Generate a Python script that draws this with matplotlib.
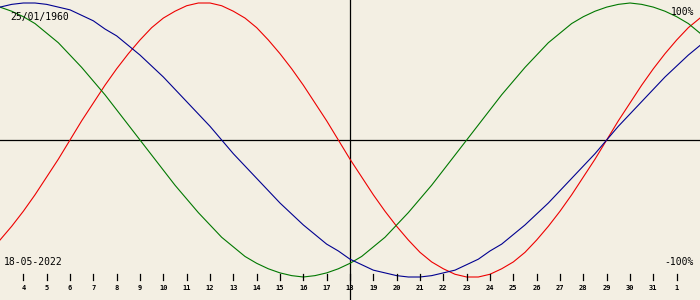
"""Biorhythm chart for 25/01/1960, centred on 18-05-2022."""

import matplotlib

matplotlib.use("Agg")

import matplotlib.pyplot as plt

BIRTH_LABEL = "25/01/1960"
DATE_LABEL = "18-05-2022"

# readings every half day, 3 May .. 2 June (x = day number counted from 1 May)
days = [3 + i / 2 for i in range(61)]
day_labels = [str(d) for d in range(4, 32)] + ["1"]
tick_days = list(range(4, 33))
centre_day = 18

physical = [
    -0.73, -0.63, -0.52, -0.40, -0.27, -0.14, 0.00, 0.14, 0.27, 0.40,
    0.52, 0.63, 0.73, 0.82, 0.89, 0.94, 0.98, 1.00, 1.00, 0.98,
    0.94, 0.89, 0.82, 0.73, 0.63, 0.52, 0.40, 0.27, 0.14, 0.00,
    -0.14, -0.27, -0.40, -0.52, -0.63, -0.73, -0.82, -0.89, -0.94, -0.98,
    -1.00, -1.00, -0.98, -0.94, -0.89, -0.82, -0.73, -0.63, -0.52, -0.40,
    -0.27, -0.14, 0.00, 0.14, 0.27, 0.40, 0.52, 0.63, 0.73, 0.82,
    0.89,
]
emotional = [
    0.97, 0.94, 0.90, 0.85, 0.78, 0.71, 0.62, 0.53, 0.43, 0.33,
    0.22, 0.11, 0.00, -0.11, -0.22, -0.33, -0.43, -0.53, -0.62, -0.71,
    -0.78, -0.85, -0.90, -0.94, -0.97, -0.99, -1.00, -0.99, -0.97, -0.94,
    -0.90, -0.85, -0.78, -0.71, -0.62, -0.53, -0.43, -0.33, -0.22, -0.11,
    0.00, 0.11, 0.22, 0.33, 0.43, 0.53, 0.62, 0.71, 0.78, 0.85,
    0.90, 0.94, 0.97, 0.99, 1.00, 0.99, 0.97, 0.94, 0.90, 0.85,
    0.78,
]
intellectual = [
    0.97, 0.99, 1.00, 1.00, 0.99, 0.97, 0.95, 0.91, 0.87, 0.81,
    0.76, 0.69, 0.62, 0.54, 0.46, 0.37, 0.28, 0.19, 0.10, 0.00,
    -0.10, -0.19, -0.28, -0.37, -0.46, -0.54, -0.62, -0.69, -0.76, -0.81,
    -0.87, -0.91, -0.95, -0.97, -0.99, -1.00, -1.00, -0.99, -0.97, -0.95,
    -0.91, -0.87, -0.81, -0.76, -0.69, -0.62, -0.54, -0.46, -0.37, -0.28,
    -0.19, -0.10, 0.00, 0.10, 0.19, 0.28, 0.37, 0.46, 0.54, 0.62,
    0.69,
]

BG = "#f3efe3"
MONO = "DejaVu Sans Mono"

fig = plt.figure(figsize=(7, 3), dpi=100, facecolor=BG)
ax = fig.add_axes([0, 0, 1, 1])
ax.set_facecolor(BG)
ax.axis("off")

# 137 px per unit, zero line 140 px from the top
ax.set_xlim(3, 33)
ax.set_ylim(-160 / 137, 140 / 137)

ax.axhline(0, color="black", lw=0.9)
ax.axvline(centre_day, color="black", lw=0.9)

ax.plot(days, physical, color="#ee0000", lw=0.8)
ax.plot(days, emotional, color="#007800", lw=0.8)
ax.plot(days, intellectual, color="#000090", lw=0.8)

tick_y0 = -134 / 137
tick_y1 = -140 / 137
for d, lab in zip(tick_days, day_labels):
    ax.plot([d, d], [tick_y0, tick_y1], color="black", lw=0.9)
    ax.text(d, -148 / 137, lab, ha="center", va="center", fontsize=5,
            family=MONO, fontweight="bold", color="black")

ax.text(10 / 700, 1 - 17 / 300, BIRTH_LABEL, transform=ax.transAxes,
        ha="left", va="center", fontsize=7, family=MONO, color="black")
ax.text(4 / 700, 1 - 262 / 300, DATE_LABEL, transform=ax.transAxes,
        ha="left", va="center", fontsize=7, family=MONO, color="black")
ax.text(694 / 700, 1 - 12 / 300, "100%", transform=ax.transAxes,
        ha="right", va="center", fontsize=7, family=MONO, color="black")
ax.text(694 / 700, 1 - 262 / 300, "-100%", transform=ax.transAxes,
        ha="right", va="center", fontsize=7, family=MONO, color="black")

fig.savefig("out.png", dpi=100, facecolor=fig.get_facecolor())
plt.close(fig)
